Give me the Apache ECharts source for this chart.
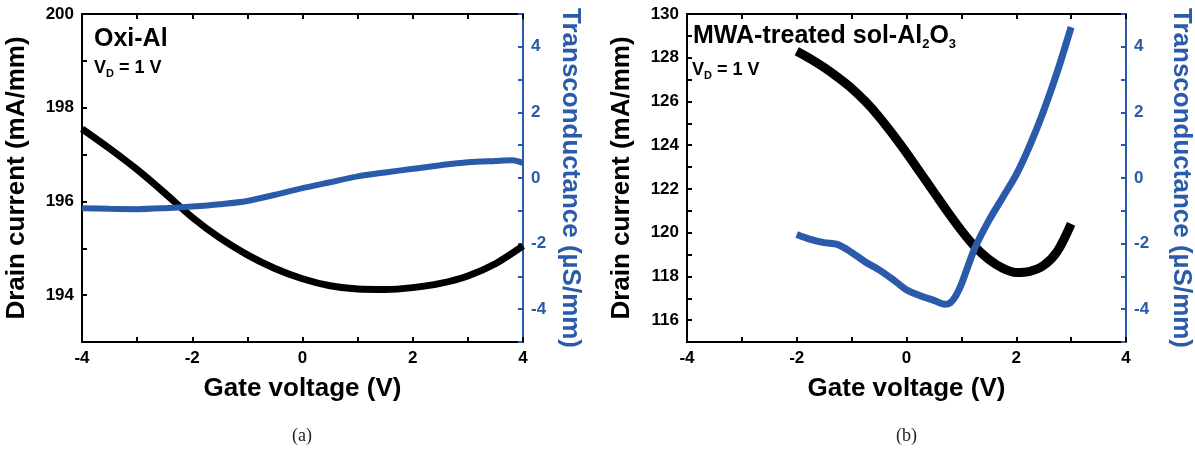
<!DOCTYPE html>
<html>
<head>
<meta charset="utf-8">
<script src="https://cdn.jsdelivr.net/npm/echarts@6/dist/echarts.min.js"></script>
<style>
  html, body { margin: 0; padding: 0; background: #fff; }
  #chart { width: 1195px; height: 461px; }
</style>
</head>
<body>
<div id="chart"></div>
<script>
// (a) Oxi-Al
const aGateV = [-4, -3.5, -3, -2.5, -2, -1.5, -1, -0.5, 0, 0.5, 1, 1.5, 2, 2.5, 3, 3.5, 4];
const aDrain = [197.55, 197.13, 196.68, 196.18, 195.66, 195.22, 194.86, 194.57, 194.35, 194.2, 194.13, 194.12, 194.16, 194.25, 194.41, 194.67, 195.05];
const aGmV = [-4, -3.5, -3, -2.5, -2, -1.5, -1, -0.5, 0, 0.5, 1, 1.5, 2, 2.5, 3, 3.5, 3.8, 4];
const aGm = [-0.92, -0.94, -0.95, -0.92, -0.87, -0.8, -0.7, -0.51, -0.31, -0.13, 0.05, 0.17, 0.28, 0.39, 0.48, 0.52, 0.54, 0.46];

// (b) MWA-treated sol-Al2O3
const bGateV = [-2, -1.75, -1.5, -1.25, -1, -0.75, -0.5, -0.25, 0, 0.25, 0.5, 0.75, 1, 1.25, 1.5, 1.75, 2, 2.25, 2.5, 2.75, 3];
const bDrain = [128.3, 127.95, 127.55, 127.1, 126.6, 126.0, 125.3, 124.5, 123.65, 122.75, 121.85, 120.95, 120.1, 119.35, 118.78, 118.38, 118.18, 118.23, 118.5, 119.15, 120.4];
const bGmV = [-2, -1.75, -1.5, -1.25, -1, -0.75, -0.5, -0.25, 0, 0.25, 0.5, 0.7, 0.8, 0.9, 1, 1.1, 1.25, 1.5, 1.75, 2, 2.25, 2.5, 2.75, 3];
const bGm = [-1.72, -1.87, -1.97, -2.03, -2.27, -2.56, -2.8, -3.09, -3.41, -3.59, -3.73, -3.85, -3.8, -3.59, -3.24, -2.78, -2.12, -1.3, -0.6, 0.1, 1.0, 2.05, 3.25, 4.6];

const BLUE = "#2a5aaa";
const FONT = "Liberation Sans";
const evenOnly = (v) => (Math.round(v) % 2 === 0 ? String(v) : "");

const xAxisBase = (gridIndex, position) => ({
  type: "value",
  gridIndex: gridIndex,
  position: position,
  min: -4,
  max: 4,
  interval: 1,
  axisLine: { show: true, onZero: false, lineStyle: { color: "#000", width: 2 } },
  axisTick: { show: true, inside: true, length: 5, lineStyle: { color: "#000", width: 2 } },
  axisLabel: {
    show: position === "bottom",
    formatter: evenOnly,
    color: "#000",
    fontSize: 17,
    fontWeight: "bold",
    fontFamily: FONT,
    margin: 8,
  },
  splitLine: { show: false },
  name: position === "bottom" ? "Gate voltage (V)" : "",
  nameLocation: "middle",
  nameGap: 34,
  nameTextStyle: { fontSize: 26, fontWeight: "bold", color: "#000", fontFamily: FONT },
});

const leftY = (gridIndex, min, max, gap) => ({
  type: "value",
  gridIndex: gridIndex,
  position: "left",
  min: min,
  max: max,
  interval: 1,
  axisLine: { show: true, onZero: false, lineStyle: { color: "#000", width: 2 } },
  axisTick: { show: true, inside: true, length: 5, lineStyle: { color: "#000", width: 2 } },
  axisLabel: {
    formatter: evenOnly,
    color: "#000",
    fontSize: 17,
    fontWeight: "bold",
    fontFamily: FONT,
    margin: 8,
  },
  splitLine: { show: false },
  name: "Drain current (mA/mm)",
  nameLocation: "middle",
  nameRotate: 90,
  nameGap: gap,
  nameTextStyle: { fontSize: 26, fontWeight: "bold", color: "#000", fontFamily: FONT },
});

const rightY = (gridIndex, gap) => ({
  type: "value",
  gridIndex: gridIndex,
  position: "right",
  min: -5,
  max: 5,
  interval: 1,
  axisLine: { show: true, onZero: false, lineStyle: { color: BLUE, width: 2 } },
  axisTick: { show: true, inside: true, length: 5, lineStyle: { color: BLUE, width: 2 } },
  axisLabel: {
    formatter: evenOnly,
    color: BLUE,
    fontSize: 17,
    fontWeight: "bold",
    fontFamily: FONT,
    margin: 8,
  },
  splitLine: { show: false },
  name: "Transconductance (\u00b5S/mm)",
  nameLocation: "middle",
  nameRotate: -90,
  nameGap: gap,
  nameTextStyle: { fontSize: 26, fontWeight: "bold", color: BLUE, fontFamily: FONT },
});

const lineSeries = (xi, yi, xs, ys, color, width) => ({
  type: "line",
  xAxisIndex: xi,
  yAxisIndex: yi,
  data: xs.map((x, i) => [x, ys[i]]),
  smooth: 0.3,
  showSymbol: false,
  symbol: "none",
  lineStyle: { color: color, width: width, cap: "butt" },
  z: color === BLUE ? 3 : 2,
});

const richLabel = {
  a: { fontSize: 25, fontWeight: "bold", fontFamily: FONT, color: "#000", lineHeight: 28, verticalAlign: "middle" },
  s: { fontSize: 13, fontWeight: "bold", fontFamily: FONT, color: "#000", lineHeight: 13, verticalAlign: "bottom" },
  v: { fontSize: 18, fontWeight: "bold", fontFamily: FONT, color: "#000", lineHeight: 22, verticalAlign: "middle" },
  d: { fontSize: 11, fontWeight: "bold", fontFamily: FONT, color: "#000", lineHeight: 11, verticalAlign: "bottom" },
};

const chart = echarts.init(document.getElementById("chart"));
chart.setOption({
  animation: false,
  grid: [
    { left: 82, top: 14, width: 441, height: 328 },
    { left: 687, top: 14, width: 441, height: 328 },
  ],
  xAxis: [xAxisBase(0, "bottom"), xAxisBase(0, "top"), xAxisBase(1, "bottom"), xAxisBase(1, "top")],
  yAxis: [leftY(0, 193, 200, 52), rightY(0, 34), leftY(1, 115, 130, 52), rightY(1, 42)],
  series: [
    lineSeries(0, 0, aGateV, aDrain, "#000", 7),
    lineSeries(0, 1, aGmV, aGm, BLUE, 6),
    lineSeries(2, 2, bGateV, bDrain, "#000", 9),
    lineSeries(2, 3, bGmV, bGm, BLUE, 7),
  ],
  graphic: [
    { type: "text", left: 94, top: 27, style: { text: "{a|Oxi-Al}", rich: richLabel } },
    { type: "text", left: 94, top: 59, style: { text: "{v|V}{d|D}{v| = 1 V}", rich: richLabel } },
    { type: "text", left: 693, top: 24, style: { text: "{a|MWA-treated sol-Al}{s|2}{a|O}{s|3}", rich: richLabel } },
    { type: "text", left: 692, top: 61, style: { text: "{v|V}{d|D}{v| = 1 V}", rich: richLabel } },
    { type: "text", left: 292, top: 427, style: { text: "(a)", fontSize: 18, fontFamily: "Liberation Serif", fill: "#222" } },
    { type: "text", left: 896, top: 427, style: { text: "(b)", fontSize: 18, fontFamily: "Liberation Serif", fill: "#222" } },
  ],
});
</script>
</body>
</html>
